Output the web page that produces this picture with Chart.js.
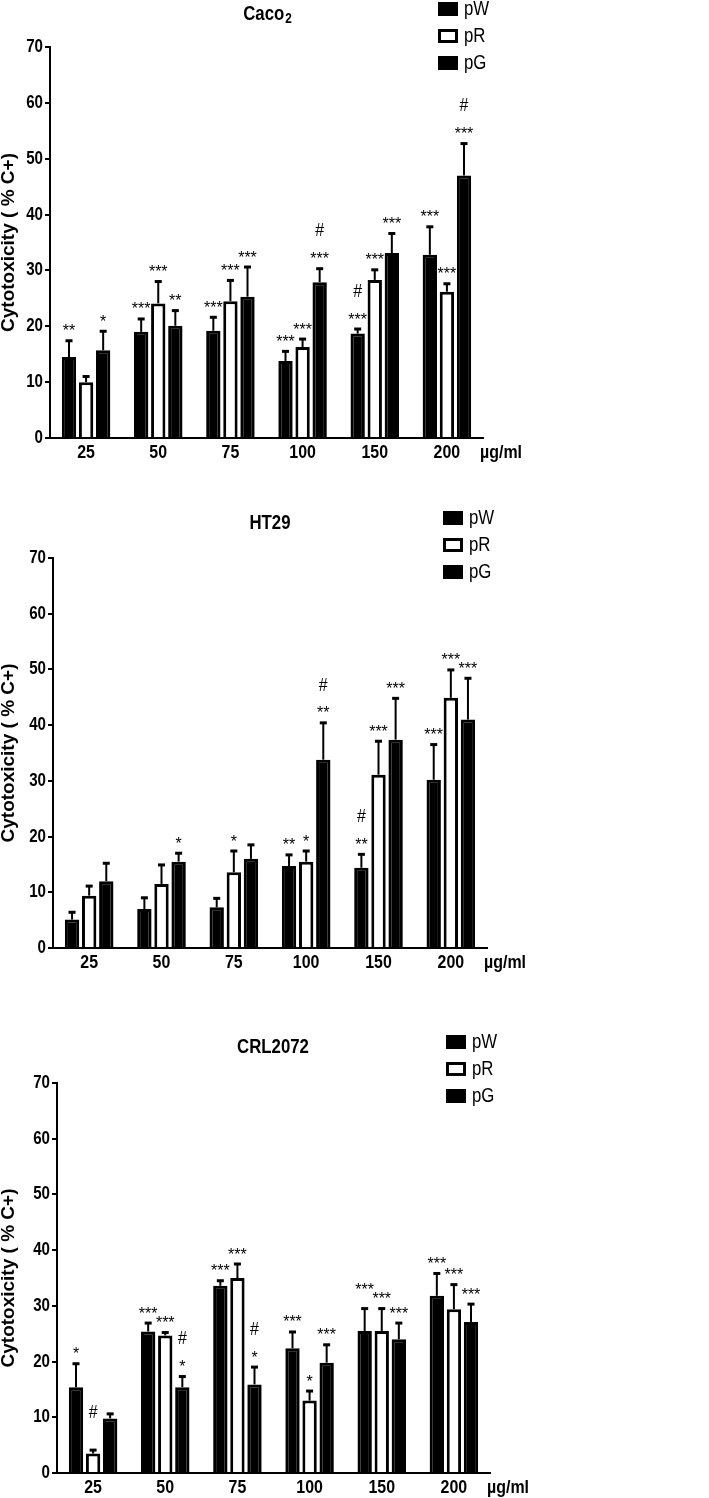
<!DOCTYPE html>
<html>
<head>
<meta charset="utf-8">
<script src="https://cdn.jsdelivr.net/npm/chart.js@4.4.1/dist/chart.umd.min.js"></script>
<style>
  body { margin: 0; background: #fff; }
  #wrap { position: relative; width: 709px; height: 1498px; }
  canvas { position: absolute; left: 0; }
</style>
</head>
<body>
<div id="wrap">
  <canvas id="caco" width="709" height="480" style="top:0px"></canvas>
  <canvas id="ht29" width="709" height="490" style="top:490px"></canvas>
  <canvas id="crl" width="709" height="508" style="top:990px"></canvas>
</div>
<script>
// Doses on the x axis and the three extracts.
var doses = ['25', '50', '75', '100', '150', '200'];
var seriesNames = ['pW', 'pR', 'pG'];

// Caco2 means and upper error (SEM).
var cacoW = [14.5, 19.0, 19.2, 13.8, 18.7, 32.8];
var cacoR = [10.0, 24.1, 24.5, 16.3, 28.3, 26.2];
var cacoG = [15.7, 20.1, 25.3, 27.9, 33.1, 47.0];
var cacoWErr = [3.0, 2.4, 2.5, 1.8, 0.9, 5.1];
var cacoRErr = [1.1, 4.0, 3.8, 1.5, 1.9, 1.5];
var cacoGErr = [3.5, 2.8, 5.4, 2.5, 3.6, 5.8];
// '#' in front means a # sign is drawn above the stars.
var cacoWSig = ['**', '***', '***', '***', '#***', '***'];
var cacoRSig = ['', '***', '***', '***', '***', '***'];
var cacoGSig = ['*', '**', '***', '#***', '***', '#***'];

// HT29
var htW = [5.1, 7.0, 7.3, 14.7, 14.4, 30.2];
var htR = [9.4, 11.5, 13.6, 15.5, 31.1, 44.9];
var htG = [12.0, 15.5, 16.0, 33.8, 37.4, 41.0];
var htWErr = [1.4, 2.1, 1.7, 2.1, 2.5, 6.4];
var htRErr = [1.8, 3.5, 3.9, 2.0, 6.1, 5.1];
var htGErr = [3.3, 1.6, 2.6, 6.7, 7.5, 7.5];
var htWSig = ['', '', '', '**', '#**', '***'];
var htRSig = ['', '', '*', '*', '***', '***'];
var htGSig = ['', '*', '', '#**', '***', '***'];

// CRL2072
var crlW = [15.4, 25.4, 33.6, 22.4, 25.5, 31.8];
var crlR = [3.5, 24.7, 35.0, 13.0, 25.5, 29.4];
var crlG = [9.8, 15.4, 15.9, 19.8, 24.0, 27.1];
var crlWErr = [4.3, 1.6, 1.0, 3.0, 4.1, 4.1];
var crlRErr = [0.7, 0.6, 2.6, 1.8, 4.1, 4.5];
var crlGErr = [0.9, 2.0, 3.2, 3.3, 3.0, 3.3];
var crlWSig = ['*', '***', '***', '***', '***', '***'];
var crlRSig = ['#', '***', '***', '*', '***', '***'];
var crlGSig = ['', '#*', '#*', '***', '***', '***'];

var SANS = "'Liberation Sans', Arial, sans-serif";
var SQUEEZE = 0.84; // fake a narrow face

// Text squeezed horizontally, anchored at x.
function narrowText(ctx, text, x, y, font, align, baseline) {
  ctx.save();
  ctx.translate(x, y);
  ctx.scale(SQUEEZE, 1);
  ctx.font = font;
  ctx.textAlign = align;
  ctx.textBaseline = baseline;
  ctx.fillText(text, 0, 0);
  ctx.restore();
}

/**
 * Error bars, significance marks, labels, legend and titles.
 */
var extrasPlugin = {
  id: 'extras',
  afterDatasetsDraw: function (chart) {
    var o = chart.options.plugins.extras;
    var ctx = chart.ctx;
    var yScale = chart.scales.y;
    var n = chart.data.labels.length;
    ctx.save();
    ctx.fillStyle = '#000';
    ctx.strokeStyle = '#000';

    for (var j = 0; j < n; j++) {
      var tops = [], xs = [];
      chart.data.datasets.forEach(function (ds, i) {
        var bar = chart.getDatasetMeta(i).data[j];
        var top = yScale.getPixelForValue(ds.data[j] + o.errors[i][j]);
        tops.push(top);
        xs.push(bar.x);
        ctx.lineWidth = 2;
        ctx.beginPath();
        ctx.moveTo(bar.x, bar.y);
        ctx.lineTo(bar.x, top);
        ctx.stroke();
        ctx.fillRect(bar.x - 3.5, top - 1, 7, 3);
      });

      // Star rows; lift the left one when two neighbours would collide.
      var starY = tops.map(function (t) { return t - 4; });
      for (var i = starY.length - 2; i >= 0; i--) {
        var a = o.marks[i][j].replace('#', '');
        var b = o.marks[i + 1][j].replace('#', '');
        if (a.length + b.length > 3 && Math.abs(starY[i] - starY[i + 1]) < 9) {
          starY[i] = starY[i + 1] - 9;
        }
      }

      for (var k = 0; k < tops.length; k++) {
        var s = o.marks[k][j];
        var hash = s.charAt(0) === '#';
        var stars = hash ? s.slice(1) : s;
        if (stars) {
          ctx.font = '16px ' + SANS;
          ctx.textAlign = 'center';
          ctx.textBaseline = 'alphabetic';
          ctx.fillText(stars, xs[k], starY[k]);
        }
        if (hash) {
          narrowText(ctx, '#', xs[k], tops[k] - 37, '19px ' + SANS, 'center', 'middle');
        }
      }
    }
    ctx.restore();
  },
  afterDraw: function (chart) {
    var o = chart.options.plugins.extras;
    var ctx = chart.ctx;
    var area = chart.chartArea;
    var xScale = chart.scales.x;
    var yScale = chart.scales.y;
    ctx.save();
    ctx.fillStyle = '#000';

    // Tick labels.
    yScale.ticks.forEach(function (t) {
      narrowText(ctx, String(t.value), area.left - 7, yScale.getPixelForValue(t.value),
        'bold 18px ' + SANS, 'right', 'middle');
    });
    xScale.ticks.forEach(function (t, i) {
      narrowText(ctx, doses[i], xScale.getPixelForTick(i), area.bottom + 15,
        'bold 19px ' + SANS, 'center', 'middle');
    });
    narrowText(ctx, '\u00b5g/ml', area.right - 3, area.bottom + 15, 'bold 19px ' + SANS, 'left', 'middle');

    // Title, with optional subscript.
    ctx.font = 'bold 20px ' + SANS;
    var w1 = ctx.measureText(o.title).width * SQUEEZE;
    ctx.font = 'bold 14px ' + SANS;
    var w2 = o.sub ? ctx.measureText(o.sub).width * SQUEEZE : 0;
    var tx = o.titleX - (w1 + w2) / 2;
    narrowText(ctx, o.title, tx, o.titleY, 'bold 20px ' + SANS, 'left', 'middle');
    if (o.sub) {
      narrowText(ctx, o.sub, tx + w1 + 1, o.titleY + 5, 'bold 14px ' + SANS, 'left', 'middle');
    }

    // Legend.
    seriesNames.forEach(function (name, i) {
      var ly = o.legendY + i * 27;
      if (i === 1) {
        ctx.lineWidth = 3;
        ctx.strokeStyle = '#000';
        ctx.strokeRect(o.legendX + 1.5, ly - 5.5, 17, 11);
      } else {
        ctx.fillRect(o.legendX, ly - 7, 20, 14);
      }
      narrowText(ctx, name, o.legendX + 26, ly, '20px ' + SANS, 'left', 'middle');
    });

    // Y axis title.
    ctx.translate(9, (area.top + area.bottom) / 2);
    ctx.rotate(-Math.PI / 2);
    ctx.textAlign = 'center';
    ctx.textBaseline = 'middle';
    ctx.font = 'bold 19px ' + SANS;
    ctx.fillText('Cytotoxicity ( % C+)', 0, 0);
    ctx.restore();
  }
};

function buildPanel(id, g, series, errors, marks) {
  var canvas = document.getElementById(id);
  var xHeight = 30;
  return new Chart(canvas, {
    type: 'bar',
    plugins: [extrasPlugin],
    data: {
      labels: doses,
      datasets: series.map(function (values, i) {
        return {
          label: seriesNames[i],
          data: values,
          backgroundColor: i === 1 ? '#fff' : '#000',
          borderColor: '#000',
          borderWidth: 3,
          categoryPercentage: 0.71,
          barPercentage: 0.84
        };
      })
    },
    options: {
      responsive: false,
      animation: false,
      devicePixelRatio: 1,
      layout: {
        padding: {
          top: g.top,
          left: 0,
          right: 709 - g.right,
          bottom: g.height - g.bottom - xHeight
        }
      },
      scales: {
        x: {
          grid: { display: false },
          border: { display: true, color: '#000', width: 2 },
          ticks: { display: false },
          afterFit: function (scale) { scale.height = xHeight; }
        },
        y: {
          min: 0,
          max: 70,
          grid: { display: true, drawOnChartArea: false, drawTicks: true, tickLength: 5, color: '#000', lineWidth: 2 },
          border: { display: true, color: '#000', width: 2 },
          ticks: { stepSize: 10, display: false },
          afterFit: function (scale) { scale.width = g.left; }
        }
      },
      plugins: {
        legend: { display: false },
        tooltip: { enabled: false },
        extras: {
          errors: errors,
          marks: marks,
          title: g.title,
          sub: g.sub,
          titleX: g.titleX,
          titleY: g.titleY,
          legendX: g.legendX,
          legendY: g.legendY
        }
      }
    }
  });
}

buildPanel('caco',
  { height: 480, left: 50, right: 483, top: 47, bottom: 438, title: 'Caco', sub: '2', titleX: 267, titleY: 14, legendX: 438, legendY: 9 },
  [cacoW, cacoR, cacoG], [cacoWErr, cacoRErr, cacoGErr], [cacoWSig, cacoRSig, cacoGSig]);

buildPanel('ht29',
  { height: 490, left: 53, right: 487, top: 68, bottom: 458, title: 'HT29', sub: '', titleX: 270, titleY: 33, legendX: 443, legendY: 28 },
  [htW, htR, htG], [htWErr, htRErr, htGErr], [htWSig, htRSig, htGSig]);

buildPanel('crl',
  { height: 508, left: 57, right: 490, top: 93, bottom: 483, title: 'CRL2072', sub: '', titleX: 273, titleY: 57, legendX: 446, legendY: 52 },
  [crlW, crlR, crlG], [crlWErr, crlRErr, crlGErr], [crlWSig, crlRSig, crlGSig]);
</script>
</body>
</html>
